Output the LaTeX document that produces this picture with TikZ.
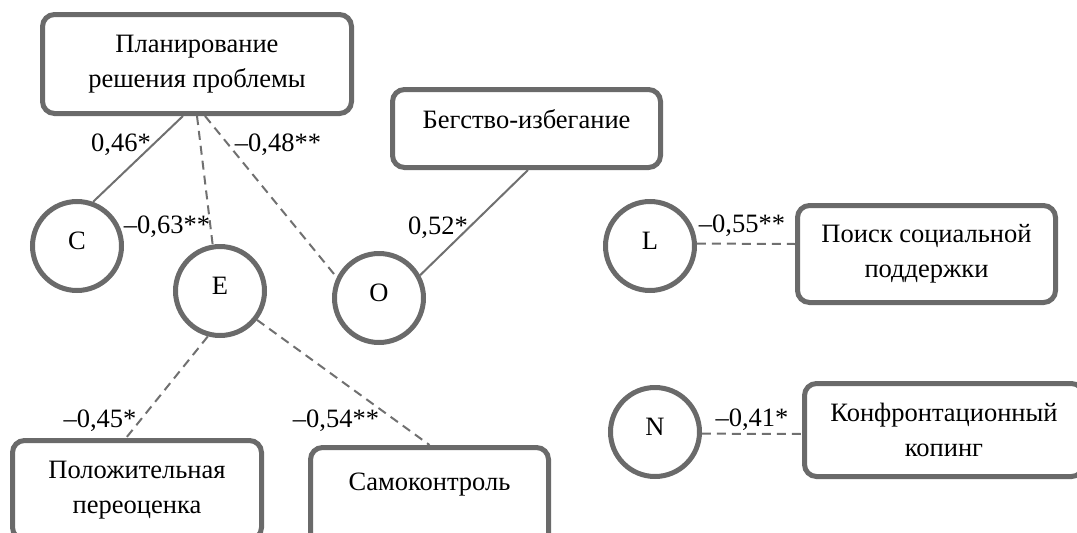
\documentclass[tikz,border=0pt]{standalone}
\usepackage{fontspec}
\setmainfont{Liberation Serif}
\usetikzlibrary{backgrounds}
\definecolor{edgecol}{RGB}{106,106,106}
\definecolor{linkcol}{RGB}{112,112,112}
\begin{document}
\begin{tikzpicture}[x=1pt,y=-1pt,
  box/.style={draw=edgecol, line width=5pt, rounded corners=12pt, inner sep=0pt, align=center, fill=white,
    font=\fontsize{26.5pt}{35pt}\selectfont},
  circ/.style={draw=edgecol, line width=5pt, circle, minimum size=89pt, inner sep=0pt, fill=white,
    font=\fontsize{26.5pt}{35pt}\selectfont, text height=18pt, text depth=12pt},
  solidlink/.style={draw=linkcol, line width=2pt},
  dashlink/.style={draw=linkcol, line width=2pt, dash pattern=on 9pt off 6pt},
  lab/.style={font=\fontsize{26.5pt}{30pt}\selectfont, inner sep=0pt, anchor=base}]
\useasboundingbox (0,0) rectangle (1077,533);

% boxes
\node[box, minimum width=309pt, minimum height=99pt] (plan) at (197,64) {Планирование\\решения проблемы};
\node[box, minimum width=268pt, minimum height=78pt, text height=18pt, text depth=18pt] (beg) at (526.5,128.5) {Бегство-избегание};
\node[box, minimum width=258pt, minimum height=97pt] (poisk) at (926.5,254) {Поиск социальной\\поддержки};
\node[box, minimum width=279pt, minimum height=93pt] (konf) at (944,430) {Конфронтационный\\копинг};
\node[box, minimum width=249pt, minimum height=99pt] (pol) at (137,490) {Положительная\\переоценка};
\node[box, minimum width=238pt, minimum height=99pt, text height=18pt, text depth=32pt] (samo) at (429.5,497) {Самоконтроль};

% circles
\node[circ] (C) at (77,246) {C};
\node[circ] (E) at (220,291) {E};
\node[circ] (O) at (379,298) {O};
\node[circ] (L) at (650,246) {L};
\node[circ] (N) at (655,432) {N};

% connectors
\begin{scope}[on background layer]
\draw[solidlink] ([xshift=-14pt]plan.south) -- (C.70);
\draw[dashlink] (plan.south) -- (E.99);
\draw[dashlink] ([xshift=8pt]plan.south) -- (O.154);
\draw[solidlink] ([xshift=1.5pt]beg.south) -- (O.29);
\draw[dashlink] (E.255) -- ([xshift=-11pt]pol.north);
\draw[dashlink] (E.322) -- (samo.north);
\draw[dashlink] (L.3) -- ([yshift=10pt]poisk.west);
\draw[dashlink] (N.-2) -- ([yshift=-4pt]konf.west);
\end{scope}

% labels
\node[lab] (l46) at (121,151) {0,46*};
\node[lab] (l48) at (278,151) {–0,48**};
\node[lab] (l63) at (167,233) {–0,63**};
\node[lab] (l52) at (438,234) {0,52*};
\node[lab] (l55) at (742,232) {–0,55**};
\node[lab] (l41) at (752,426) {–0,41*};
\node[lab] (l45) at (100,427) {–0,45*};
\node[lab] (l54) at (336,427) {–0,54**};
\end{tikzpicture}
\end{document}
